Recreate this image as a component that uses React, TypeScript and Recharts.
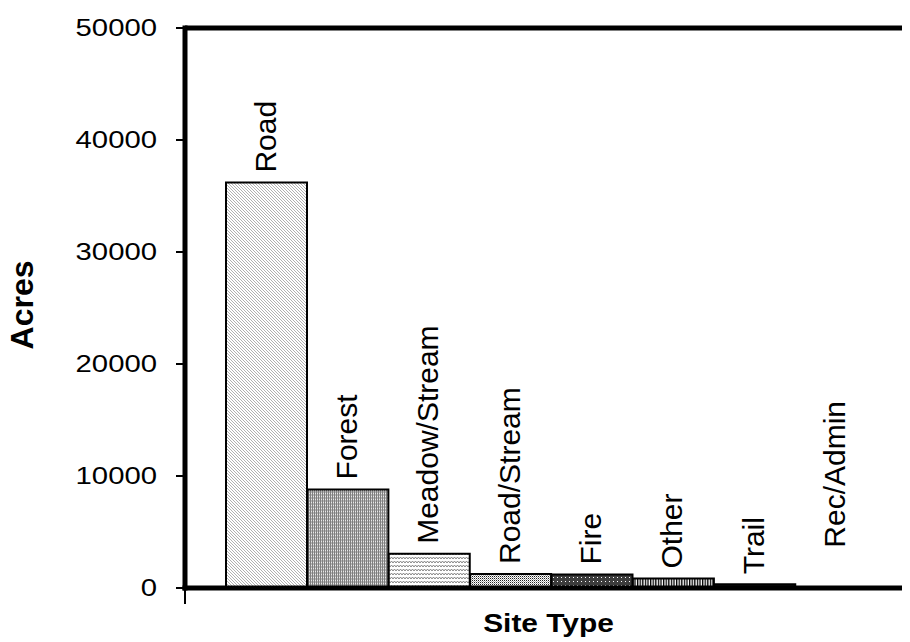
import { BarChart, Bar, XAxis, YAxis, Cell, ReferenceLine } from 'recharts';

const siteTypes = ['Road', 'Forest', 'Meadow/Stream', 'Road/Stream', 'Fire', 'Other', 'Trail', 'Rec/Admin'];
const acres = [36200, 8800, 3050, 1250, 1200, 850, 330, 30];
const yTicks = [0, 10000, 20000, 30000, 40000, 50000];

const data = siteTypes.map((site, i) => ({ site, acres: acres[i] }));

const font = "'Liberation Sans', Arial, sans-serif";

function Patterns() {
  return (
    <defs>
      {/* Road: light diagonal hatch */}
      <pattern id="pat-0" patternUnits="userSpaceOnUse" width="3" height="3">
        <rect width="3" height="3" fill="#ffffff" />
        <path d="M0,0 L3,3 M-1,2 L1,4 M2,-1 L4,1" stroke="#a8a8a8" strokeWidth="0.9" />
      </pattern>
      {/* Forest: medium grey fine texture */}
      <pattern id="pat-1" patternUnits="userSpaceOnUse" width="2" height="3">
        <rect width="2" height="3" fill="#b4b4b4" />
        <rect x="0" y="0" width="1" height="3" fill="#7e7e7e" />
        <rect x="1" y="1" width="1" height="1" fill="#e8e8e8" />
      </pattern>
      {/* Meadow/Stream: wavy lines */}
      <pattern id="pat-2" patternUnits="userSpaceOnUse" width="6" height="4">
        <rect width="6" height="4" fill="#ffffff" />
        <path d="M0,3 L1.5,1 L3,3 L4.5,1 L6,3" stroke="#7a7a7a" strokeWidth="0.9" fill="none" />
      </pattern>
      {/* Road/Stream: fine stipple */}
      <pattern id="pat-3" patternUnits="userSpaceOnUse" width="2" height="2">
        <rect width="2" height="2" fill="#ffffff" />
        <rect x="0" y="0" width="1" height="1" fill="#222" />
        <rect x="1" y="1" width="1" height="1" fill="#aaa" />
      </pattern>
      {/* Fire: dark with white dots */}
      <pattern id="pat-4" patternUnits="userSpaceOnUse" width="4" height="4">
        <rect width="4" height="4" fill="#3c3c3c" />
        <rect x="1" y="1" width="1" height="1" fill="#ffffff" />
      </pattern>
      {/* Other: vertical stripes */}
      <pattern id="pat-5" patternUnits="userSpaceOnUse" width="2.6" height="2">
        <rect width="2.6" height="2" fill="#ffffff" />
        <rect x="0" y="0" width="1.3" height="2" fill="#000" />
      </pattern>
      {/* Trail: black with grey dashes */}
      <pattern id="pat-6" patternUnits="userSpaceOnUse" width="6" height="3">
        <rect width="6" height="3" fill="#111" />
        <rect x="1" y="1" width="2" height="1" fill="#777" />
      </pattern>
      <pattern id="pat-7" patternUnits="userSpaceOnUse" width="4" height="4">
        <rect width="4" height="4" fill="#ffffff" />
      </pattern>
    </defs>
  );
}

const YTick = (props: any) => {
  const { x, y, payload } = props;
  const axisX = x + 9 + 19;
  return (
    <g>
      {payload.value === 0 && <line x1={axisX} y1={y} x2={axisX} y2={y + 16} stroke="#000" strokeWidth={2} />}
      <text
        transform={`translate(${x},${y + 2}) scale(1.22,1)`}
        textAnchor="end"
        dominantBaseline="middle"
        fontSize={24}
        fontFamily={font}
        fill="#000"
      >
        {payload.value}
      </text>
    </g>
  );
};

const renderBarLabel = (props: any) => {
  const { x, y, width, index } = props;
  const cx = Number(x) + Number(width) / 2;
  const lift = index === siteTypes.length - 1 ? 40 : 10;
  return (
    <text
      transform={`translate(${cx + 9},${Number(y) - lift}) rotate(-90)`}
      textAnchor="start"
      fontSize={30}
      fontFamily={font}
      fill="#000"
    >
      {siteTypes[index]}
    </text>
  );
};

const XTitle = (props: any) => {
  const { viewBox } = props;
  const cx = viewBox.x + viewBox.width / 2;
  return (
    <text
      transform={`translate(${cx - 3},${632}) scale(1.15,1)`}
      textAnchor="middle"
      fontSize={26}
      fontWeight="bold"
      fontFamily={font}
      fill="#000"
    >
      Site Type
    </text>
  );
};

const YTitle = (props: any) => {
  const { viewBox } = props;
  const cy = viewBox.y + viewBox.height / 2;
  return (
    <text
      transform={`translate(33,${cy - 3}) rotate(-90)`}
      textAnchor="middle"
      fontSize={32}
      fontWeight="bold"
      fontFamily={font}
      fill="#000"
    >
      Acres
    </text>
  );
};

export default function App() {
  return (
    <div style={{ margin: '-8px 0 0 -8px', width: 910, height: 642, overflow: 'hidden', background: '#fff' }}>
      <BarChart
        width={918}
        height={642}
        data={data}
        margin={{ top: 28, right: 0, bottom: 0, left: 0 }}
        barCategoryGap={0}
      >
        <Patterns />
        <XAxis
          dataKey="site"
          height={54}
          tick={false}
          tickLine={false}
          padding={{ left: 41, right: 41 }}
          axisLine={{ stroke: '#000', strokeWidth: 5, strokeLinecap: 'square' }}
          label={{ content: XTitle }}
        />
        <YAxis
          width={185}
          domain={[0, 50000]}
          ticks={yTicks}
          interval={0}
          tickSize={9}
          tickMargin={19}
          tickLine={{ stroke: '#000', strokeWidth: 2 }}
          axisLine={{ stroke: '#000', strokeWidth: 5, strokeLinecap: 'square' }}
          tick={YTick}
          label={{ content: YTitle }}
        />
        <ReferenceLine y={50000} stroke="#000" strokeWidth={5} />
        <Bar
          dataKey="acres"
          stroke="#000"
          strokeWidth={2}
          isAnimationActive={false}
          label={renderBarLabel}
        >
          {data.map((d, i) => (
            <Cell key={d.site} fill={`url(#pat-${i})`} />
          ))}
        </Bar>
      </BarChart>
    </div>
  );
}
